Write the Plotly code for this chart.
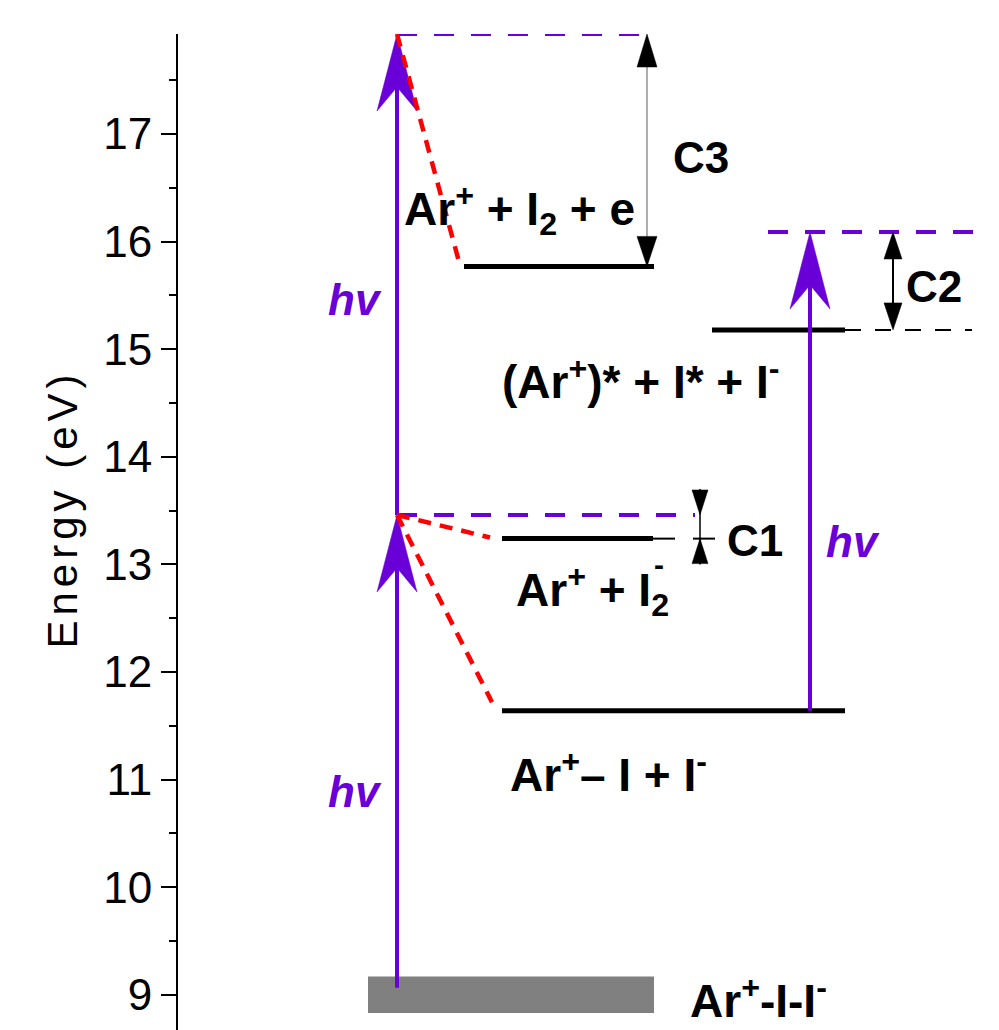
import plotly.graph_objects as go

# ---------------- data ----------------
tick_values = [9, 10, 11, 12, 13, 14, 15, 16, 17]

# real (solid) levels
level_names = ["Ar+ + I2 + e", "(Ar+)* + I* + I-", "Ar+ + I2-", "Ar+-I + I-"]
level_energy = [15.77, 15.18, 13.24, 11.64]
level_x0 = [286, 534, 324, 324]
level_x1 = [476, 667, 475, 667]

# ground state band
ground_energy = 9.0
ground_half = 0.17
ground_x0 = 190
ground_x1 = 476

# virtual (dashed purple) levels
virtual_energy = [17.93, 13.46, 16.09]
virtual_x0 = [219, 219, 590]
virtual_x1 = [474, 517, 799]

# photon arrows
photon_x = [219, 219, 632]
photon_from = [9.065, 13.46, 11.64]
photon_to = [13.46, 17.93, 16.09]

# relaxation (red dashed)
relax_x0 = [219, 219, 219]
relax_e0 = [13.46, 13.46, 17.93]
relax_x1 = [312, 314, 282]
relax_e1 = [13.25, 11.72, 15.78]

# energy-gap markers
gap_names = ["C1", "C2", "C3"]
gap_x = [522, 715, 469]
gap_hi = [13.46, 16.09, 17.93]
gap_lo = [13.24, 15.18, 15.77]

# extensions of levels towards gap markers
ext_energy = [15.18, 13.24]
ext_x0 = [667, 475]
ext_x1 = [794, 497]

# ---------------- layout constants ----------------
W, H = 991, 1022
M_L, M_T = 170, 26
Y_RANGE = [8.673, 17.93]
X_RANGE = [0, W - M_L]
PX = (H - M_T) / (Y_RANGE[1] - Y_RANGE[0])  # pixels per eV

PURPLE = "#6a00d8"
RED = "#ff0000"
FONT = "Liberation Sans, Arial, sans-serif"

shapes = []

def line(x0, y0, x1, y1, color, width, dash=None):
    d = dict(type="line", xref="x", yref="y", x0=x0, y0=y0, x1=x1, y1=y1,
             line=dict(color=color, width=width))
    if dash:
        d["line"]["dash"] = dash
    shapes.append(d)

def head(x, y_tip, up, length, half, notch, color):
    s = 1 if up else -1
    yb = y_tip - s * length / PX
    yn = y_tip - s * notch / PX
    path = (f"M {x},{y_tip} L {x-half},{yb} L {x},{yn} L {x+half},{yb} Z")
    shapes.append(dict(type="path", xref="x", yref="y", path=path,
                       fillcolor=color, line=dict(color=color, width=0.5)))

# ground band
shapes.append(dict(type="rect", xref="x", yref="y", x0=ground_x0, x1=ground_x1,
                   y0=ground_energy - ground_half, y1=ground_energy + ground_half,
                   fillcolor="#808080", line=dict(width=0)))

# virtual levels
for e, a, b in zip(virtual_energy, virtual_x0, virtual_x1):
    line(a, e, b, e, PURPLE, 4, "20px,17px")

# level extensions
line(ext_x0[0], ext_energy[0], ext_x1[0], ext_energy[0], "black", 2, "16px,14px")
line(ext_x0[1], ext_energy[1], ext_x1[1], ext_energy[1], "black", 2)

# real levels
for e, a, b in zip(level_energy, level_x0, level_x1):
    line(a, e, b, e, "black", 5)

# photon arrows
for x, a, b in zip(photon_x, photon_from, photon_to):
    line(x, a, x, b - 40 / PX, PURPLE, 4)
    head(x, b, True, 77, 20, 53, PURPLE)

# relaxation lines
for a, e0, b, e1 in zip(relax_x0, relax_e0, relax_x1, relax_e1):
    line(a, e0, b, e1, RED, 4.5, "13px,9px")

# gap markers
# C1 : inward arrows
x, hi, lo = gap_x[0], gap_hi[0], gap_lo[0]
line(x, hi + 26 / PX, x, lo - 26 / PX, "black", 1.5)
head(x, hi, False, 25, 8, 25, "black")
head(x, lo, True, 25, 8, 25, "black")
line(x - 7, lo, x + 15, lo, "black", 2)
# C2 : outward double arrow
x, hi, lo = gap_x[1], gap_hi[1], gap_lo[1]
line(x, hi - 10 / PX, x, lo + 10 / PX, "black", 2)
head(x, hi, True, 27, 9, 27, "black")
head(x, lo, False, 27, 9, 27, "black")
# C3 : outward double arrow, thin grey stem
x, hi, lo = gap_x[2], gap_hi[2], gap_lo[2]
line(x, hi - 20 / PX, x, lo + 20 / PX, "#777777", 1.2)
head(x, hi, True, 33, 10, 33, "black")
head(x, lo, False, 30, 10, 30, "black")

# ---------------- texts ----------------
ann = []

def text(x, y, t, size=46, color="black", xanchor="center", yanchor="middle",
         angle=0, xref="x"):
    ann.append(dict(x=x, y=y, xref=xref, yref="y", text=t, showarrow=False,
                    xanchor=xanchor, yanchor=yanchor, textangle=angle,
                    font=dict(family=FONT, size=size, color=color)))

hv = "<b><i>hv</i></b>"
text(177, 15.46, hv, 44, PURPLE)
text(177, 10.89, hv, 44, PURPLE)
text(675, 13.21, hv, 44, PURPLE)

text(gap_x[2] + 24, 16.78, "<b>C3</b>", 44, xanchor="left")
text(gap_x[1] + 11, 15.58, "<b>C2</b>", 44, xanchor="left")
text(gap_x[0] + 25, 13.22, "<b>C1</b>", 44, xanchor="left")

text(341, 16.30, "<b>Ar<sup>+</sup> + I<sub>2</sub> + e</b>", 46)
text(463, 14.72, "<b>(Ar<sup>+</sup>)* + I* + I<sup>-</sup></b>", 46)
text(414, 12.76, "<b>Ar<sup>+</sup> + I<sub>2</sub></b>", 46)
text(481, 13.0, "<b>-</b>", 30)
text(430, 11.07, "<b>Ar<sup>+</sup>\u2013 I + I<sup>-</sup></b>", 46)
text(510, 8.97, "<b>Ar<sup>+</sup>-I-I<sup>-</sup></b>", 46, xanchor="left")

# axis title (as rotated annotation, paper-referenced x)
text(-115 / (W - M_L), 13.51, '<span style="letter-spacing:5px">Energy (eV)</span>',
     42, angle=-90, xref="paper")

fig = go.Figure()
fig.add_trace(go.Scatter(x=[0], y=[9], mode="markers", marker=dict(opacity=0),
                         hoverinfo="skip", showlegend=False))

fig.update_layout(
    width=W, height=H,
    margin=dict(l=M_L, r=0, t=M_T, b=0, pad=0),
    paper_bgcolor="white", plot_bgcolor="white",
    shapes=shapes, annotations=ann, showlegend=False,
    xaxis=dict(range=X_RANGE, visible=False, fixedrange=True),
    yaxis=dict(range=Y_RANGE, tickmode="array", tickvals=tick_values,
               showgrid=False, zeroline=False, showline=True, linecolor="black",
               linewidth=2, ticks="outside", ticklen=15, tickwidth=2,
               tickcolor="black",
               tickfont=dict(family=FONT, size=44, color="black"),
               minor=dict(dtick=0.5, tick0=0, ticks="outside", ticklen=7,
                          tickwidth=2, tickcolor="black", showgrid=False)),
)

fig.write_html("out.html")
